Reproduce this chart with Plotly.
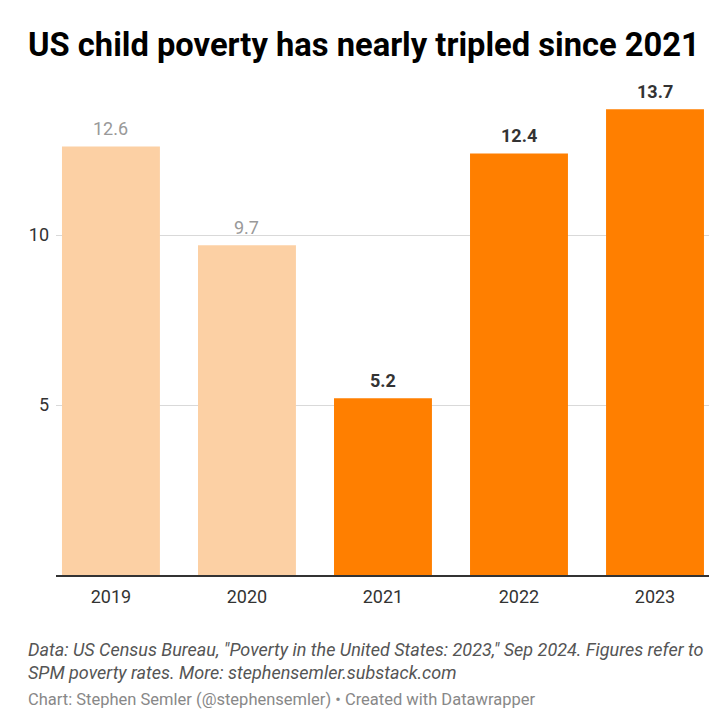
import plotly.graph_objects as go

years = ["2019", "2020", "2021", "2022", "2023"]
values = [12.6, 9.7, 5.2, 12.4, 13.7]
label_texts = ["12.6", "9.7", "5.2", "12.4", "13.7"]
highlight = [False, False, True, True, True]

LIGHT = "#fcd0a4"
ORANGE = "#ff7f00"

W, H = 727, 726
L, R, T, B = 56, 18, 99, 151
PW = W - L - R
PH = H - T - B

def px_x(px):
    return (px - L) / PW

def px_y(py):
    return (H - B - py) / PH

colors = [ORANGE if h else LIGHT for h in highlight]

fig = go.Figure()
fig.add_trace(go.Bar(
    x=list(range(len(years))),
    y=values,
    marker=dict(color=colors, line=dict(width=0)),
    width=0.72,
    hoverinfo="skip",
))

annotations = []
for i, (v, t, h) in enumerate(zip(values, label_texts, highlight)):
    annotations.append(dict(
        x=i, y=v, xref="x", yref="y",
        text=f"<b>{t}</b>" if h else t,
        showarrow=False, yanchor="middle", yshift=18,
        font=dict(family="Roboto", size=18, color="#333333" if h else "#999999"),
    ))

annotations.append(dict(
    x=px_x(26), y=px_y(45), xref="paper", yref="paper",
    xanchor="left", yanchor="middle", showarrow=False,
    text="<b>US child poverty has nearly tripled since 2021</b>",
    font=dict(family="Roboto", size=32.7, color="#000000"),
))
annotations.append(dict(
    x=px_x(26), y=px_y(661), xref="paper", yref="paper",
    xanchor="left", yanchor="middle", showarrow=False, align="left",
    text="<i>Data: US Census Bureau, \"Poverty in the United States: 2023,\" Sep 2024. Figures refer to<br>SPM poverty rates. More: stephensemler.substack.com</i>",
    font=dict(family="Roboto", size=18, color="#555555"),
))
annotations.append(dict(
    x=px_x(26), y=px_y(699), xref="paper", yref="paper",
    xanchor="left", yanchor="middle", showarrow=False,
    text="Chart: Stephen Semler (@stephensemler) • Created with Datawrapper",
    font=dict(family="Roboto", size=16.5, color="#888888"),
))

fig.update_layout(
    width=W, height=H,
    margin=dict(l=L, r=R, t=T, b=B, pad=0),
    paper_bgcolor="white", plot_bgcolor="white",
    showlegend=False,
    annotations=annotations,
    font=dict(family="Roboto"),
    xaxis=dict(
        range=[-0.404, 4.397],
        tickvals=list(range(len(years))),
        ticktext=years,
        showgrid=False, zeroline=False,
        showline=True, linecolor="#333333", linewidth=1.5,
        ticks="", ticklabelstandoff=5,
        tickfont=dict(family="Roboto", size=18, color="#333333"),
        fixedrange=True,
    ),
    yaxis=dict(
        range=[0, 14],
        tickvals=[5, 10],
        ticktext=["5", "10"],
        showgrid=True, gridcolor="#d9d9d9", gridwidth=1,
        zeroline=False, showline=False, ticks="",
        ticklabelstandoff=6,
        tickfont=dict(family="Roboto", size=18, color="#333333"),
        fixedrange=True,
    ),
)

fig.write_html("out.html")
